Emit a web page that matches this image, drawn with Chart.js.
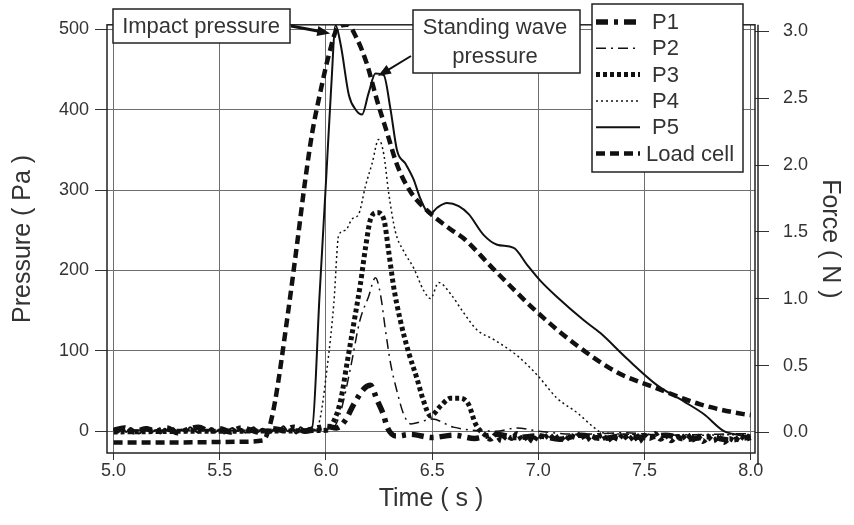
<!DOCTYPE html>
<html>
<head>
<meta charset="utf-8">
<script src="https://cdn.jsdelivr.net/npm/chart.js@4.4.1/dist/chart.umd.min.js"></script>
<style>
html, body { margin: 0; padding: 0; background: #fff; }
#wrap { width: 854px; height: 525px; }
</style>
</head>
<body>
<div id="wrap"><canvas id="chart" width="854" height="525"></canvas></div>
<script>
// axis ticks
const timeTicks = [5.0, 5.5, 6.0, 6.5, 7.0, 7.5, 8.0];
const pressureTicks = [0, 100, 200, 300, 400, 500];
const forceTicks = [0, 0.5, 1.0, 1.5, 2.0, 2.5, 3.0];

// pressure gauges (Pa) (baselines are noisy)
const p1Time = [5.0, 5.05, 5.1, 5.15, 5.2, 5.25, 5.3, 5.35, 5.4, 5.45, 5.5, 5.55, 5.6, 5.65, 5.7, 5.75, 5.8, 5.85, 5.9, 5.95, 6.0, 6.05,
	6.09, 6.13, 6.18, 6.21, 6.24, 6.27, 6.29, 6.33, 6.4, 6.5, 6.6, 6.7, 6.8, 6.9, 7.0, 7.1, 7.2, 7.3, 7.4, 7.5, 7.6, 7.7, 7.8, 7.9, 8.0];
const p1Pa   = [1, 4, -1, 3, 0, 4, -2, 2, 5, 0, 3, -1, 4, 1, -2, 3, 1, 5, 0, 3, 6, 4,
	13, 33, 53, 57, 39, 21, 4, -6, -4, -8, -5, -9, -4, -8, -6, -10, -5, -9, -6, -8, -5, -10, -7, -11, -7];

const p2Time = [5.0, 5.5, 5.95, 6.03, 6.07, 6.115, 6.16, 6.2, 6.233, 6.256, 6.28, 6.303, 6.335, 6.366, 6.4, 6.45, 6.5, 6.6, 6.8, 6.9, 7.0, 7.2, 7.4, 7.6, 7.8, 8.0];
const p2Pa   = [1, 1, 1, 3, 25, 78, 138, 167, 191, 171, 126, 86, 49, 21, 9, 12, 15, 5, 0, 4, 0, -4, -2, -5, -4, -3];

const p3Time = [5.0, 5.5, 6.0, 6.021, 6.068, 6.1, 6.131, 6.162, 6.186, 6.21, 6.241, 6.272, 6.295, 6.319, 6.35, 6.389, 6.429, 6.46, 6.492, 6.539, 6.586, 6.633, 6.672, 6.704,
	6.75, 6.775, 6.8, 6.825, 6.85, 6.875, 6.9, 6.925, 6.95, 6.975, 7.0, 7.025, 7.05, 7.075, 7.1, 7.125, 7.15, 7.175, 7.2, 7.225, 7.25, 7.275, 7.3, 7.325, 7.35, 7.375,
	7.4, 7.425, 7.45, 7.475, 7.5, 7.525, 7.55, 7.575, 7.6, 7.625, 7.65, 7.675, 7.7, 7.725, 7.75, 7.775, 7.8, 7.825, 7.85, 7.875, 7.9, 7.925, 7.95, 7.975, 8.0];
const p3Pa   = [-1, 0, 1, 5, 37, 86, 134, 183, 228, 264, 272, 264, 224, 179, 138, 98, 65, 37, 19, 31, 41, 41, 33, 9,
	-5, -10, -4, -12, -6, -9, -3, -11, -7, -13, -5, -9, -4, -10, -6, -12, -5, -8, -3, -11, -6, -9, -4, -12, -7, -10,
	-4, -11, -6, -13, -5, -9, -3, -10, -6, -12, -7, -9, -4, -11, -6, -13, -8, -12, -7, -14, -9, -12, -6, -10, -8];

const p4Time = [5.0, 5.5, 5.94, 5.966, 6.005, 6.037, 6.06, 6.092, 6.123, 6.154, 6.186, 6.217, 6.248, 6.272, 6.295, 6.327, 6.366, 6.413, 6.46, 6.492, 6.531, 6.586, 6.649, 6.711, 6.79, 6.9, 6.994, 7.088, 7.182, 7.26, 7.3, 7.5, 7.75, 8.0];
const p4Pa   = [1, 1, 2, 9, 78, 159, 244, 250, 264, 270, 305, 333, 363, 345, 297, 248, 224, 203, 175, 165, 185, 171, 147, 126, 114, 94, 70, 41, 23, 5, -2, -4, -5, -4];

const p5Time = [5.0, 5.02, 5.04, 5.06, 5.08, 5.1, 5.12, 5.14, 5.16, 5.18, 5.2, 5.22, 5.24, 5.26, 5.28, 5.3, 5.32, 5.34, 5.36, 5.38, 5.4, 5.42, 5.44, 5.46, 5.48,
	5.5, 5.52, 5.54, 5.56, 5.58, 5.6, 5.62, 5.64, 5.66, 5.68, 5.7, 5.72, 5.74, 5.76, 5.78, 5.8, 5.82, 5.84, 5.86, 5.88, 5.9, 5.92,
	5.935, 5.97, 6.0, 6.025, 6.045, 6.07, 6.108, 6.14, 6.17, 6.2, 6.233, 6.272, 6.303, 6.335, 6.374, 6.413, 6.445, 6.49, 6.523, 6.57, 6.625, 6.672, 6.743, 6.806,
	6.884, 6.947, 7.01, 7.088, 7.214, 7.292, 7.418, 7.56, 7.685, 7.78, 7.874, 7.95, 8.0];
const p5Pa   = [2, -2, 3, -1, 4, 0, -3, 2, 5, -1, 1, -3, 3, 0, 4, -2, 2, -1, 5, 1, -2, 3, 0, 4, -1,
	2, -3, 1, 4, 0, 3, -2, 2, 5, -1, 3, 1, -2, 4, 2, 6, 0, 3, -3, 5, 1, 4,
	5, 170, 310, 430, 505, 480, 418, 400, 394, 420, 445, 443, 402, 349, 333, 313, 289, 270, 278, 284, 280, 270, 244, 232,
	228, 207, 187, 167, 138, 122, 90, 57, 37, 21, 0, -5, -8];

// load cell (N), right axis
const loadTime = [5.0, 5.3, 5.6, 5.705, 5.73, 5.76, 5.817, 5.864, 5.903, 5.935, 5.974, 6.013, 6.053, 6.1, 6.147, 6.194, 6.241, 6.288, 6.335, 6.398, 6.476, 6.586, 6.649, 6.79, 6.994, 7.182, 7.37, 7.558, 7.762, 7.966, 8.0];
const loadN    = [-0.075, -0.075, -0.07, -0.06, 0.02, 0.23, 0.845, 1.41, 1.895, 2.24, 2.55, 2.82, 3.02, 3.05, 2.94, 2.75, 2.48, 2.24, 2.0, 1.8, 1.66, 1.52, 1.45, 1.22, 0.9, 0.65, 0.45, 0.33, 0.21, 0.137, 0.13];

const FONT = "'Liberation Sans', Arial, sans-serif";

function pts(xs, ys) {
	return xs.map((x, i) => ({ x, y: ys[i] }));
}

function line(label, xs, ys, width, dash, axis) {
	return {
		label,
		data: pts(xs, ys),
		yAxisID: axis || 'y',
		borderColor: '#111',
		borderWidth: width,
		borderDash: dash,
		borderCapStyle: 'butt',
		pointRadius: 0,
		fill: false,
		cubicInterpolationMode: 'monotone'
	};
}

const datasets = [
	line('P1', p1Time, p1Pa, 5.5, [12, 6, 4, 6]),
	line('P2', p2Time, p2Pa, 1.5, [10, 5, 2, 5]),
	line('P3', p3Time, p3Pa, 5, [4, 3]),
	line('P4', p4Time, p4Pa, 1.5, [2, 3]),
	line('P5', p5Time, p5Pa, 2, []),
	line('Load cell', loadTime, loadN, 4.5, [9, 5], 'yF')
];

function fixedTicks(list) {
	return scale => { scale.ticks = list.map(v => ({ value: v })); };
}

function arrow(ctx, x1, y1, x2, y2, w) {
	const a = Math.atan2(y2 - y1, x2 - x1);
	ctx.save();
	ctx.strokeStyle = '#111';
	ctx.fillStyle = '#111';
	ctx.lineWidth = w;
	ctx.beginPath();
	ctx.moveTo(x1, y1);
	ctx.lineTo(x2 - 10 * Math.cos(a), y2 - 10 * Math.sin(a));
	ctx.stroke();
	ctx.beginPath();
	ctx.moveTo(x2, y2);
	ctx.lineTo(x2 - 13 * Math.cos(a) + 5 * Math.sin(a), y2 - 13 * Math.sin(a) - 5 * Math.cos(a));
	ctx.lineTo(x2 - 13 * Math.cos(a) - 5 * Math.sin(a), y2 - 13 * Math.sin(a) + 5 * Math.cos(a));
	ctx.closePath();
	ctx.fill();
	ctx.restore();
}

function textBox(ctx, x, y, w, h, lines, cx) {
	ctx.save();
	ctx.fillStyle = '#fff';
	ctx.fillRect(x, y, w, h);
	ctx.strokeStyle = '#222';
	ctx.lineWidth = 1.5;
	ctx.strokeRect(x, y, w, h);
	ctx.fillStyle = '#333';
	ctx.font = '22px ' + FONT;
	ctx.textAlign = 'center';
	ctx.textBaseline = 'middle';
	lines.forEach((t, i) => ctx.fillText(t, cx, y + 18 + i * 29));
	ctx.restore();
}

// frame, annotations and legend drawn over the plot
const decor = {
	id: 'decor',
	afterDatasetsDraw(chart) {
		const { ctx, chartArea: a, scales } = chart;
		ctx.save();
		ctx.strokeStyle = '#222';
		ctx.lineWidth = 1.5;
		ctx.strokeRect(a.left, a.top, a.right - a.left, a.bottom - a.top);
		ctx.beginPath();
		ctx.moveTo(a.right + 3, a.top);
		ctx.lineTo(a.right + 3, a.bottom + 12);
		ctx.stroke();
		ctx.restore();

		// annotations
		textBox(ctx, 113, 9, 177, 34, ['Impact pressure'], 201);
		arrow(ctx, 291, 26, scales.x.getPixelForValue(6.02), scales.y.getPixelForValue(495), 3);
		textBox(ctx, 413, 10, 167, 63, ['Standing wave', 'pressure'], 495);
		arrow(ctx, 411, 56, scales.x.getPixelForValue(6.245), scales.y.getPixelForValue(442), 2);

		// legend
		const lx = 592, ly = 4, lw = 151, lh = 168;
		ctx.save();
		ctx.fillStyle = '#fff';
		ctx.fillRect(lx, ly, lw, lh);
		ctx.strokeStyle = '#222';
		ctx.lineWidth = 1.5;
		ctx.strokeRect(lx, ly, lw, lh);
		ctx.font = '22px ' + FONT;
		ctx.textBaseline = 'middle';
		chart.data.datasets.forEach((ds, i) => {
			const y = ly + 18 + i * 26.3;
			ctx.strokeStyle = ds.borderColor;
			ctx.lineWidth = ds.borderWidth;
			ctx.setLineDash(ds.borderDash);
			ctx.lineCap = 'butt';
			ctx.beginPath();
			ctx.moveTo(lx + 4, y);
			ctx.lineTo(lx + 48, y);
			ctx.stroke();
			ctx.setLineDash([]);
			ctx.fillStyle = '#333';
			ctx.fillText(ds.label, ds.label.length > 2 ? lx + 54 : lx + 60, y + 1);
		});
		ctx.restore();
	}
};

const gridColor = '#6e6e6e';

new Chart(document.getElementById('chart'), {
	type: 'line',
	data: { datasets },
	options: {
		responsive: false,
		animation: false,
		devicePixelRatio: 1,
		layout: { padding: { top: 16, left: 0, right: 0, bottom: 0 } },
		plugins: { legend: { display: false }, tooltip: { enabled: false } },
		scales: {
			x: {
				type: 'linear',
				min: 4.969,
				max: 8.02,
				afterBuildTicks: fixedTicks(timeTicks),
				afterFit: s => { s.height = 72; },
				grid: { color: gridColor, lineWidth: 1, tickLength: 7, tickColor: '#333' },
				border: { display: false },
				ticks: { font: { family: FONT, size: 18 }, color: '#333', padding: 0, maxRotation: 0, callback: v => v.toFixed(1) },
				title: { display: true, text: 'Time ( s )', font: { family: FONT, size: 25 }, color: '#333', padding: { top: 0, bottom: 11 } }
			},
			y: {
				position: 'left',
				min: -27.2,
				max: 505.7,
				afterBuildTicks: fixedTicks(pressureTicks),
				afterFit: s => { s.width = 107; },
				grid: { color: gridColor, lineWidth: 1, tickLength: 12, tickColor: '#333' },
				border: { display: false },
				ticks: { font: { family: FONT, size: 18 }, color: '#333', padding: 6 },
				title: { display: true, text: 'Pressure ( Pa )', font: { family: FONT, size: 25 }, color: '#333', padding: { top: 8, bottom: 0 } }
			},
			yF: {
				position: 'right',
				min: -0.154,
				max: 3.049,
				afterBuildTicks: fixedTicks(forceTicks),
				afterFit: s => { s.width = 99; },
				grid: { drawOnChartArea: false, tickLength: 14, tickColor: '#333', lineWidth: 1 },
				border: { display: false },
				ticks: { font: { family: FONT, size: 18 }, color: '#333', padding: 14, callback: v => v.toFixed(1) },
				title: { display: true, text: 'Force ( N )', font: { family: FONT, size: 25 }, color: '#333', padding: { top: 9, bottom: 9 } }
			}
		}
	},
	plugins: [decor]
});
</script>
</body>
</html>
